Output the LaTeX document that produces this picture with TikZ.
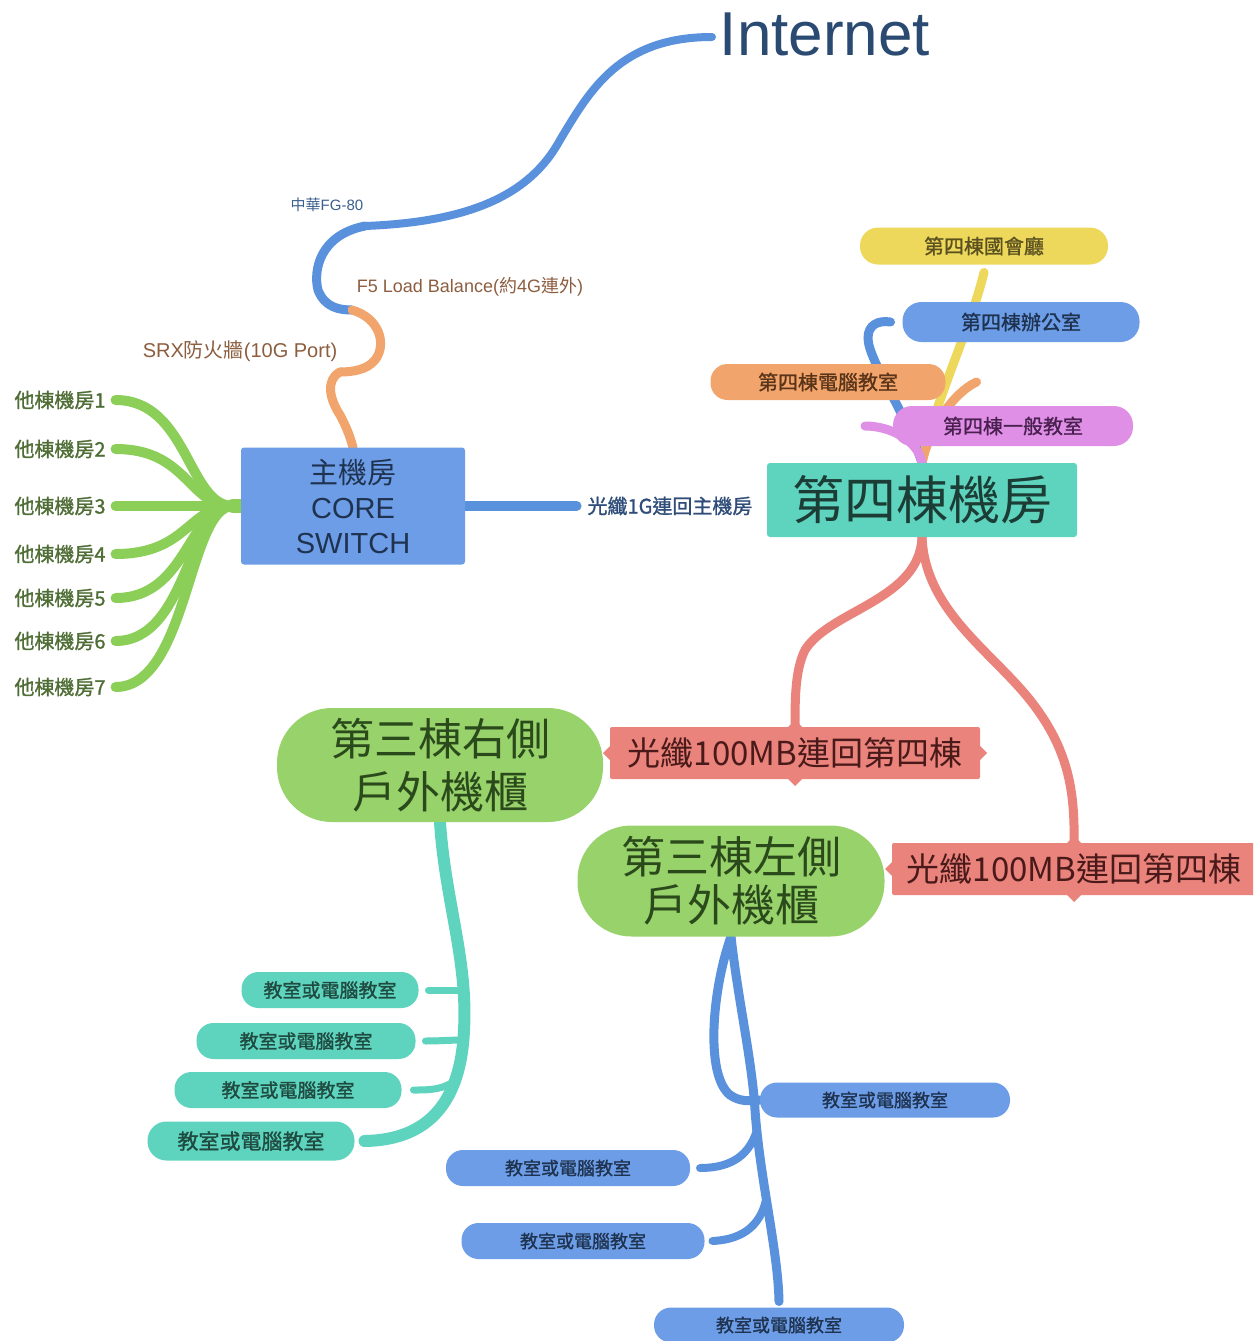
\documentclass[tikz,border=0pt]{standalone}
\usepackage{fontspec}
\setmainfont{Liberation Sans}
\newfontfamily\cjk{Noto Sans CJK TC}
\newfontfamily\cjkb[FakeBold=1.2]{Noto Sans CJK TC}
\pgfdeclarelayer{bg}
\pgfsetlayers{bg,main}
\definecolor{cBox}{HTML}{6C9DE6}
\definecolor{cLineB}{HTML}{5A91DC}
\definecolor{cTealC}{HTML}{5ED3BE}
\definecolor{cOrg}{HTML}{F1A46B}
\definecolor{cRed}{HTML}{E9837B}
\definecolor{cPGrn}{HTML}{98D26B}
\definecolor{cFan}{HTML}{8CCF58}
\definecolor{cYel}{HTML}{EDD85B}
\definecolor{cPink}{HTML}{DF90E6}
\definecolor{cInk}{HTML}{2A4A72}
\definecolor{cNavy}{HTML}{1F3350}
\definecolor{cFib}{HTML}{2F4D78}
\definecolor{cTealInk}{HTML}{1C3D35}
\definecolor{cYelInk}{HTML}{5A5020}
\definecolor{cOrgInk}{HTML}{5A3418}
\definecolor{cPinkInk}{HTML}{4A2050}
\definecolor{cRedInk}{HTML}{4A1A1A}
\definecolor{cGrnInk}{HTML}{2B4A1C}
\definecolor{cTBInk}{HTML}{1F4A40}
\definecolor{cOInk}{HTML}{4F6E36}
\definecolor{cBrown}{HTML}{8C5E3F}
\definecolor{cFG}{HTML}{3B5F8E}
\tikzset{
  every node/.style={inner sep=0pt, outer sep=0pt},
  conn/.style={line width=9pt, line cap=round},
  lnB/.style={conn, draw=cLineB},
  lnO/.style={conn, draw=cOrg},
  lnG/.style={conn, draw=cFan, line width=10pt},
  lnY/.style={conn, draw=cYel},
  lnP/.style={conn, draw=cPink},
  lnR/.style={conn, draw=cRed},
  lnT/.style={conn, draw=cTealC, line width=12pt},
  rbox/.style={rounded corners=3pt},
  pill/.style={font=\cjkb\fontsize{20}{24}\selectfont},
  tpill/.style={fill=cTealC, text=cTBInk, minimum height=36pt, rounded corners=17pt, font=\cjkb\fontsize{19}{23}\selectfont},
  bpill/.style={fill=cBox, text=cNavy, minimum height=35pt, rounded corners=17pt, font=\cjkb\fontsize{18}{22}\selectfont},
  other/.style={text=cOInk, font=\cjkb\fontsize{20}{24}\selectfont},
  redlab/.style={rounded corners=2pt, fill=cRed, minimum height=52pt, font=\cjk\fontsize{33}{40}\selectfont, text=cRedInk},
}
\begin{document}
\begin{tikzpicture}[x=1pt,y=-1pt]
\useasboundingbox (0,0) rectangle (1253,1341);
\clip (0,0) rectangle (1253,1341);

% ---------- nodes ----------
\node[font=\fontsize{62}{70}\selectfont, text=cInk] (inet) at (825,34) {Internet};
\node[font=\fontsize{15}{18}\selectfont, text=cFG] (fg) at (327,205) {{\cjk 中華}FG-80};
\node[font=\fontsize{18}{22}\selectfont, text=cBrown] (f5) at (470,287) {F5 Load Balance({\cjk 約}4G{\cjk 連外})};
\node[font=\fontsize{20}{24}\selectfont, text=cBrown] (srx) at (240,351) {SRX{\cjk 防火牆}(10G Port)};

\node[rbox, fill=cBox, minimum width=224pt, minimum height=117pt, align=center,
      font=\fontsize{29}{35}\selectfont, text=cNavy] (core) at (353,506) {{\cjk 主機房}\\CORE\\SWITCH};
\node[font=\cjkb\fontsize{20}{24}\selectfont, text=cFib] (fib) at (670,506) {光纖1G連回主機房};
\node[rbox, fill=cTealC, minimum width=310pt, minimum height=74pt,
      font=\cjk\fontsize{52}{60}\selectfont, text=cTealInk] (b4) at (922,500) {第四棟機房};

\node[pill, rounded corners=18pt, fill=cYel, minimum width=248pt, minimum height=37pt, text=cYelInk] (hall) at (984,246) {第四棟國會廳};
\node[pill, rounded corners=19pt, fill=cBox, minimum width=237pt, minimum height=40pt, text=cNavy] (office) at (1021,322) {第四棟辦公室};
\node[pill, rounded corners=17pt, fill=cOrg, minimum width=235pt, minimum height=36pt, text=cOrgInk] (lab) at (828,382) {第四棟電腦教室};
\node[pill, rounded corners=19pt, fill=cPink, minimum width=240pt, minimum height=40pt, text=cPinkInk] (class) at (1013,426) {第四棟一般教室};

\node[redlab, minimum width=370pt] (r1) at (795,753) {光纖100MB連回第四棟};
\node[redlab, minimum width=364pt] (r2) at (1074,869) {光纖100MB連回第四棟};

\node[rounded corners=55pt, fill=cPGrn, minimum width=326pt, minimum height=114pt, align=center,
      font=\cjk\fontsize{44}{53}\selectfont, text=cGrnInk] (g1) at (440,765) {第三棟右側\\戶外機櫃};
\node[rounded corners=54pt, fill=cPGrn, minimum width=307pt, minimum height=111pt, align=center,
      font=\cjk\fontsize{44}{48}\selectfont, text=cGrnInk] (g2) at (731,881) {第三棟左側\\戶外機櫃};

\node[tpill, minimum width=177pt] (tA) at (330,990) {教室或電腦教室};
\node[tpill, minimum width=219pt] (tB) at (306,1041) {教室或電腦教室};
\node[tpill, minimum width=227pt] (tC) at (288,1090) {教室或電腦教室};
\node[tpill, minimum width=207pt, minimum height=39pt, rounded corners=19pt, font=\cjkb\fontsize{21}{25}\selectfont] (tD) at (251,1141) {教室或電腦教室};

\node[bpill, minimum width=250pt] (bR) at (885,1100) {教室或電腦教室};
\node[bpill, minimum width=244pt, minimum height=36pt] (bL1) at (568,1168) {教室或電腦教室};
\node[bpill, minimum width=243pt, minimum height=36pt] (bL2) at (583,1241) {教室或電腦教室};
\node[bpill, minimum width=250pt] (bB) at (779,1325) {教室或電腦教室};

\node[other] (o1) at (60,400) {他棟機房1};
\node[other] (o2) at (60,449) {他棟機房2};
\node[other] (o3) at (60,506) {他棟機房3};
\node[other] (o4) at (60,554) {他棟機房4};
\node[other] (o5) at (60,598) {他棟機房5};
\node[other] (o6) at (60,641) {他棟機房6};
\node[other] (o7) at (60,687) {他棟機房7};

% red label points
\foreach \r in {r1,r2}{
  \fill[cRed] ([xshift=-7pt]\r.north) -- ([yshift=7pt]\r.north) -- ([xshift=7pt]\r.north) -- cycle;
  \fill[cRed] ([xshift=-7pt]\r.south) -- ([yshift=-7pt]\r.south) -- ([xshift=7pt]\r.south) -- cycle;
  \fill[cRed] ([yshift=-7pt]\r.west) -- ([xshift=-7pt]\r.west) -- ([yshift=7pt]\r.west) -- cycle;
  \fill[cRed] ([yshift=-7pt]\r.east) -- ([xshift=7pt]\r.east) -- ([yshift=7pt]\r.east) -- cycle;
}

% ---------- connectors ----------
\begin{pgfonlayer}{bg}
\fill[white] (0,0) rectangle (1253,1341);
\coordinate (jInet) at (712,37);
\coordinate (jFG) at (365,226);
\coordinate (jF5) at (352,310);
\coordinate (jSRX) at (340,372);
\draw[lnB, line width=8pt] (jInet) .. controls (620,37) and (590,90) .. (560,140)
      .. controls (530,195) and (470,222) .. (jFG);
\draw[lnB] (jFG) .. controls (320,235) and (313,270) .. (318,290)
      .. controls (325,308) and (340,310) .. (jF5);
\draw[lnO] (jF5) .. controls (380,318) and (387,345) .. (375,360)
      .. controls (367,370) and (352,372) .. (jSRX);
\draw[lnO] (jSRX) .. controls (325,380) and (330,400) .. (340,415)
      .. controls (348,430) and (351,440) .. (core.north);

\draw[lnB, line width=10pt, shorten >=11pt] (core.east) -- (fib.west);

\coordinate (jG) at (233,506);
\foreach \o/\y in {o1/400,o2/449,o3/506,o4/554,o5/598,o6/641,o7/687}{
  \draw[lnG] (jG) .. controls (188,506) and (188,\y) .. ([xshift=10pt]\o.east);
}
\draw[lnG, line width=14pt] (core.west) -- (jG);

\draw[lnY] (b4.north) .. controls (935,400) and (970,330) .. ([yshift=-8pt]hall.south);
\draw[lnB] (b4.north) .. controls (905,410) and (868,360) .. (868,338)
      .. controls (868,325) and (878,320) .. ([xshift=-12pt]office.west);
\draw[lnO] (b4.north) .. controls (930,425) and (955,392) .. ([xshift=31pt]lab.east);
\draw[lnP] (b4.north) .. controls (918,440) and (890,426) .. ([xshift=-28pt]class.west);

\draw[lnR] (b4.south) .. controls (920,600) and (830,610) .. (805,650)
      .. controls (795,670) and (795,700) .. (r1.north);
\draw[lnR] (b4.south) .. controls (925,610) and (990,650) .. (1030,700)
      .. controls (1068,748) and (1075,790) .. (r2.north);

\coordinate (jT1) at (464,990);
\coordinate (jT2) at (464,1040);
\coordinate (jT3) at (458,1078);
\draw[lnT] (g1.south) .. controls (445,900) and (468,960) .. (464,1030)
      .. controls (461,1100) and (430,1140) .. ([xshift=10pt]tD.east);
\draw[lnT, line width=7pt] (jT1) .. controls (450,990) and (440,990) .. ([xshift=10pt]tA.east);
\draw[lnT, line width=7pt] (jT2) .. controls (450,1040) and (440,1041) .. ([xshift=10pt]tB.east);
\draw[lnT, line width=7pt] (jT3) .. controls (445,1090) and (430,1090) .. ([xshift=12pt]tC.east);

\coordinate (jBl1) at (757,1130);
\coordinate (jBl2) at (766,1200);
\draw[lnB] (g2.south) .. controls (712,990) and (705,1075) .. (730,1095)
      .. controls (740,1102) and (750,1101) .. (bR.west);
\draw[lnB] (g2.south) .. controls (738,1000) and (752,1060) .. (755,1110)
      .. controls (760,1180) and (778,1250) .. ([yshift=6pt]bB.north);
\draw[lnB, line width=8pt] (jBl1) .. controls (748,1160) and (725,1168) .. ([xshift=10pt]bL1.east);
\draw[lnB, line width=8pt] (jBl2) .. controls (758,1235) and (730,1240) .. ([xshift=8pt]bL2.east);
\end{pgfonlayer}
\end{tikzpicture}
\end{document}
